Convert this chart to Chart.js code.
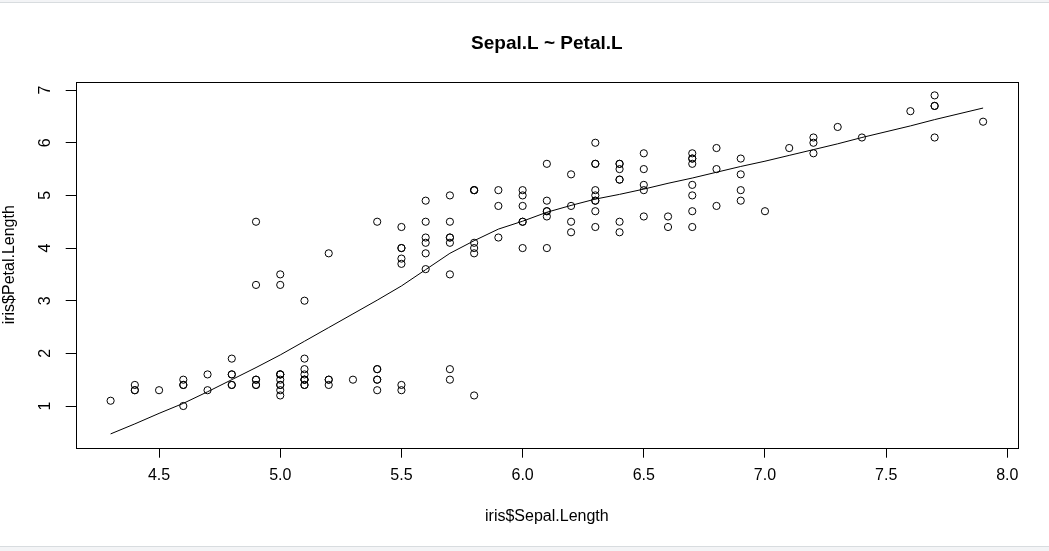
<!DOCTYPE html>
<html>
<head>
<meta charset="utf-8">
<script src="https://cdn.jsdelivr.net/npm/chart.js@4/dist/chart.umd.min.js"></script>
<style>
  html, body { margin: 0; padding: 0; background: #fff; }
  #wrap { position: relative; width: 1049px; height: 551px; }
  #wrap canvas { position: absolute; left: 0; top: 0; }
  .band-top { position: absolute; left: 0; top: 0; width: 1049px; height: 2px; background: #f3f4f6; border-bottom: 1px solid #d8dcdf; }
  .band-bottom { position: absolute; left: 0; top: 546px; width: 1049px; height: 4px; background: #f3f4f6; border-top: 1px solid #d8dcdf; }
</style>
</head>
<body>
<div id="wrap">
  <div class="band-top"></div>
  <div class="band-bottom"></div>
  <canvas id="chart" width="1049" height="551"></canvas>
</div>
<script>
// iris: Sepal.Length (x) and Petal.Length (y)
const sepalLength = [
  5.1, 4.9, 4.7, 4.6, 5.0, 5.4, 4.6, 5.0, 4.4, 4.9, 5.4, 4.8, 4.8, 4.3, 5.8, 5.7, 5.4, 5.1, 5.7, 5.1,
  5.4, 5.1, 4.6, 5.1, 4.8, 5.0, 5.0, 5.2, 5.2, 4.7, 4.8, 5.4, 5.2, 5.5, 4.9, 5.0, 5.5, 4.9, 4.4, 5.1,
  5.0, 4.5, 4.4, 5.0, 5.1, 4.8, 5.1, 4.6, 5.3, 5.0, 7.0, 6.4, 6.9, 5.5, 6.5, 5.7, 6.3, 4.9, 6.6, 5.2,
  5.0, 5.9, 6.0, 6.1, 5.6, 6.7, 5.6, 5.8, 6.2, 5.6, 5.9, 6.1, 6.3, 6.1, 6.4, 6.6, 6.8, 6.7, 6.0, 5.7,
  5.5, 5.5, 5.8, 6.0, 5.4, 6.0, 6.7, 6.3, 5.6, 5.5, 5.5, 6.1, 5.8, 5.0, 5.6, 5.7, 5.7, 6.2, 5.1, 5.7,
  6.3, 5.8, 7.1, 6.3, 6.5, 7.6, 4.9, 7.3, 6.7, 7.2, 6.5, 6.4, 6.8, 5.7, 5.8, 6.4, 6.5, 7.7, 7.7, 6.0,
  6.9, 5.6, 7.7, 6.3, 6.7, 7.2, 6.2, 6.1, 6.4, 7.2, 7.4, 7.9, 6.4, 6.3, 6.1, 7.7, 6.3, 6.4, 6.0, 6.9,
  6.7, 6.9, 5.8, 6.8, 6.7, 6.7, 6.3, 6.5, 6.2, 5.9
];
const petalLength = [
  1.4, 1.4, 1.3, 1.5, 1.4, 1.7, 1.4, 1.5, 1.4, 1.5, 1.5, 1.6, 1.4, 1.1, 1.2, 1.5, 1.3, 1.4, 1.7, 1.5,
  1.7, 1.5, 1.0, 1.7, 1.9, 1.6, 1.6, 1.5, 1.4, 1.6, 1.6, 1.5, 1.5, 1.4, 1.5, 1.2, 1.3, 1.4, 1.3, 1.5,
  1.3, 1.3, 1.3, 1.6, 1.9, 1.4, 1.6, 1.4, 1.5, 1.4, 4.7, 4.5, 4.9, 4.0, 4.6, 4.5, 4.7, 3.3, 4.6, 3.9,
  3.5, 4.2, 4.0, 4.7, 3.6, 4.4, 4.5, 4.1, 4.5, 3.9, 4.8, 4.0, 4.9, 4.7, 4.3, 4.4, 4.8, 5.0, 4.5, 3.5,
  3.8, 3.7, 3.9, 5.1, 4.5, 4.5, 4.7, 4.4, 4.1, 4.0, 4.4, 4.6, 4.0, 3.3, 4.2, 4.2, 4.2, 4.3, 3.0, 4.1,
  6.0, 5.1, 5.9, 5.6, 5.8, 6.6, 4.5, 6.3, 5.8, 6.1, 5.1, 5.3, 5.5, 5.0, 5.1, 5.3, 5.5, 6.7, 6.9, 5.0,
  5.7, 4.9, 6.7, 4.9, 5.7, 6.0, 4.8, 4.9, 5.6, 5.8, 6.1, 6.4, 5.6, 5.1, 5.6, 6.1, 5.6, 5.5, 4.8, 5.4,
  5.6, 5.1, 5.1, 5.9, 5.7, 5.2, 5.0, 5.2, 5.4, 5.1
];

// lowess smooth
const lowessX = [4.3, 4.4, 4.5, 4.6, 4.7, 4.8, 4.9, 5.0, 5.1, 5.2, 5.3, 5.4, 5.5, 5.6, 5.7, 5.8, 5.9, 6.0,
  6.1, 6.2, 6.3, 6.4, 6.5, 6.6, 6.7, 6.8, 6.9, 7.0, 7.1, 7.2, 7.3, 7.4, 7.6, 7.7, 7.9];
const lowessY = [0.47, 0.66, 0.86, 1.05, 1.27, 1.50, 1.73, 1.97, 2.23, 2.49, 2.75, 3.01, 3.28, 3.59, 3.90, 4.14, 4.36, 4.51,
  4.68, 4.81, 4.93, 5.02, 5.12, 5.23, 5.33, 5.44, 5.55, 5.65, 5.76, 5.87, 5.98, 6.10, 6.32, 6.44, 6.66];

const xTicks = [4.5, 5.0, 5.5, 6.0, 6.5, 7.0, 7.5, 8.0];
const yTicks = [1, 2, 3, 4, 5, 6, 7];

const FONT = "'Liberation Sans', Arial, Helvetica, sans-serif";

// R style box around the plot region
const boxPlugin = {
    id: 'box',
    afterDraw(chart) {
        const { ctx, chartArea: a } = chart;
        ctx.save();
        ctx.strokeStyle = '#000';
        ctx.lineWidth = 1;
        ctx.strokeRect(Math.round(a.left) + 0.5, Math.round(a.top) + 0.5,
            Math.round(a.right - a.left), Math.round(a.bottom - a.top));
        ctx.restore();
    }
};

new Chart(document.getElementById('chart'), {
    type: 'scatter',
    data: {
        datasets: [{
            data: sepalLength.map((x, i) => ({ x: x, y: petalLength[i] })),
            pointStyle: 'circle',
            pointRadius: 3.6,
            pointBorderWidth: 1,
            pointBorderColor: '#000',
            pointBackgroundColor: 'rgba(0,0,0,0)',
            showLine: false
        }, {
            type: 'line',
            data: lowessX.map((x, i) => ({ x: x, y: lowessY[i] })),
            borderColor: '#000',
            borderWidth: 1,
            pointRadius: 0,
            tension: 0,
            fill: false
        }]
    },
    options: {
        responsive: false,
        animation: false,
        layout: { padding: { top: 0, right: 31, bottom: 0, left: 0 } },
        plugins: {
            legend: { display: false },
            tooltip: { enabled: false },
            title: {
                display: true,
                fullSize: false,
                text: 'Sepal.L ~ Petal.L',
                color: '#000',
                font: { family: FONT, size: 19, weight: 'bold' },
                padding: { top: 32, bottom: 27 }
            }
        },
        scales: {
            x: {
                type: 'linear',
                min: 4.156,
                max: 8.044,
                afterBuildTicks: s => { s.ticks = xTicks.map(v => ({ value: v })); },
                afterFit: s => { s.height = 103.3; },
                border: { display: false },
                grid: { display: true, drawOnChartArea: false, drawTicks: true, tickLength: 10, color: '#000' },
                ticks: {
                    color: '#000',
                    font: { family: FONT, size: 16 },
                    padding: 8,
                    maxRotation: 0,
                    callback: v => Number(v).toFixed(1)
                },
                title: {
                    display: true,
                    text: 'iris$Sepal.Length',
                    color: '#000',
                    font: { family: FONT, size: 16 },
                    padding: { top: 0, bottom: 25 }
                }
            },
            y: {
                type: 'linear',
                min: 0.208,
                max: 7.158,
                afterBuildTicks: s => { s.ticks = yTicks.map(v => ({ value: v })); },
                afterFit: s => { s.width = 75.7; },
                border: { display: false },
                grid: { display: true, drawOnChartArea: false, drawTicks: true, tickLength: 10, color: '#000' },
                ticks: {
                    color: '#000',
                    font: { family: FONT, size: 16 },
                    padding: 16,
                    minRotation: 90,
                    maxRotation: 90,
                    crossAlign: 'center',
                    callback: v => String(v)
                },
                title: {
                    display: true,
                    text: 'iris$Petal.Length',
                    color: '#000',
                    font: { family: FONT, size: 16 },
                    padding: { top: 0, bottom: 0 }
                }
            }
        }
    },
    plugins: [boxPlugin]
});
</script>
</body>
</html>
